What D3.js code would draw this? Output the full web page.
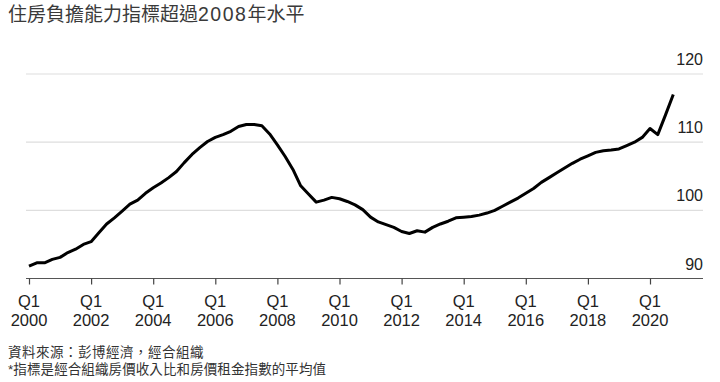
<!DOCTYPE html>
<html>
<head>
<meta charset="utf-8">
<script src="https://cdn.jsdelivr.net/npm/d3@7"></script>
<style>
  html, body { margin: 0; padding: 0; background: #fff; }
  svg { display: block; }
</style>
</head>
<body>
<svg id="chart" width="720" height="382"></svg>
<script>
// ---- data ----
const titleParts = ["住房負擔能力指標超過", "2008", "年水平"];
const sourceNote = "資料來源：彭博經濟，經合組織";
const footNote = "*指標是經合組織房價收入比和房價租金指數的平均值";
const startYear = 2000;
// quarterly affordability index, 2000 Q1 .. 2020 Q4
const values = [
  91.8, 92.3, 92.3, 92.8, 93.1, 93.8, 94.3, 95.0,
  95.4, 96.7, 98.0, 98.9, 99.9, 100.9, 101.5, 102.5,
  103.3, 104.0, 104.8, 105.7, 107.0, 108.2, 109.2, 110.1,
  110.7, 111.1, 111.6, 112.3, 112.6, 112.6, 112.4, 111.2,
  109.6, 107.9, 106.0, 103.6, 102.4, 101.2, 101.5, 101.9,
  101.7, 101.3, 100.8, 100.1, 99.0, 98.3, 97.9, 97.5,
  96.9, 96.6, 97.0, 96.8, 97.5, 98.0, 98.4, 98.9,
  99.0, 99.1, 99.3, 99.6, 100.0, 100.6, 101.2, 101.8,
  102.5, 103.2, 104.1, 104.8, 105.5, 106.2, 106.9, 107.5,
  108.0, 108.5, 108.75, 108.85, 109.0, 109.5, 110.0, 110.7,
  112.0, 111.1, 114.0, 117.0
];
const xTickYears = [2000, 2002, 2004, 2006, 2008, 2010, 2012, 2014, 2016, 2018, 2020];
const xTickQuarter = "Q1";
const yTicks = [90, 100, 110, 120];

// ---- layout ----
const svg = d3.select("#chart");
const plotLeft = 29, plotRight2020 = 650;
const gridLeft = 26, gridRight = 703;
const yTop = 74, yBottom = 278.5;

const data = values.map((v, i) => ({ t: startYear + i / 4, v }));

const x = d3.scaleLinear().domain([2000, 2020]).range([plotLeft, plotRight2020]);
const y = d3.scaleLinear().domain([90, 120]).range([yBottom, yTop]);

// title
const cjk = "'Liberation Sans', 'Noto Sans CJK TC', 'Noto Sans CJK SC', sans-serif";
const latin = "'Liberation Sans', Arial, sans-serif";
const title = svg.append("text")
  .attr("x", 8).attr("y", 20.5)
  .attr("font-family", cjk)
  .attr("font-size", 19)
  .attr("fill", "#3a3a3a");
title.append("tspan").text(titleParts[0]);
title.append("tspan")
  .attr("font-family", latin)
  .attr("font-size", 19.5)
  .attr("letter-spacing", 1.5)
  .text(titleParts[1]);
title.append("tspan").text(titleParts[2]);

// gridlines + y labels
const yg = svg.append("g");
yTicks.forEach(t => {
  yg.append("line")
    .attr("x1", gridLeft).attr("x2", gridRight)
    .attr("y1", y(t)).attr("y2", y(t))
    .attr("stroke", t === 90 ? "#555" : "#dedede")
    .attr("stroke-width", 1.2);
  yg.append("text")
    .attr("x", gridRight).attr("y", y(t) - 9)
    .attr("text-anchor", "end")
    .attr("font-family", latin)
    .attr("font-size", 16)
    .attr("fill", "#222")
    .text(t);
});

// x axis ticks
const xAxis = d3.axisBottom(x)
  .tickValues(xTickYears)
  .tickSize(6)
  .tickFormat("");
const xg = svg.append("g").attr("transform", `translate(0,${yBottom})`).call(xAxis);
xg.select(".domain").remove();
xg.selectAll(".tick line").attr("stroke", "#444").attr("stroke-width", 1.2);

const lab = svg.append("g")
  .attr("font-family", latin)
  .attr("font-size", 16.5)
  .attr("fill", "#222")
  .attr("text-anchor", "middle");
xTickYears.forEach(yr => {
  lab.append("text").attr("x", x(yr)).attr("y", 307).text(xTickQuarter);
  lab.append("text").attr("x", x(yr)).attr("y", 326).text(yr);
});

// line
const line = d3.line().x(d => x(d.t)).y(d => y(d.v)).curve(d3.curveLinear);
svg.append("path")
  .datum(data)
  .attr("d", line)
  .attr("fill", "none")
  .attr("stroke", "#000")
  .attr("stroke-width", 3)
  .attr("stroke-linejoin", "round")
  .attr("stroke-linecap", "butt");

// footnotes
const fn = svg.append("g")
  .attr("font-family", cjk)
  .attr("font-size", 13.5)
  .attr("fill", "#333");
fn.append("text").attr("x", 8).attr("y", 357).attr("letter-spacing", 0.5).text(sourceNote);
fn.append("text").attr("x", 8).attr("y", 373.5).attr("letter-spacing", 0.1).text(footNote);
</script>
</body>
</html>
